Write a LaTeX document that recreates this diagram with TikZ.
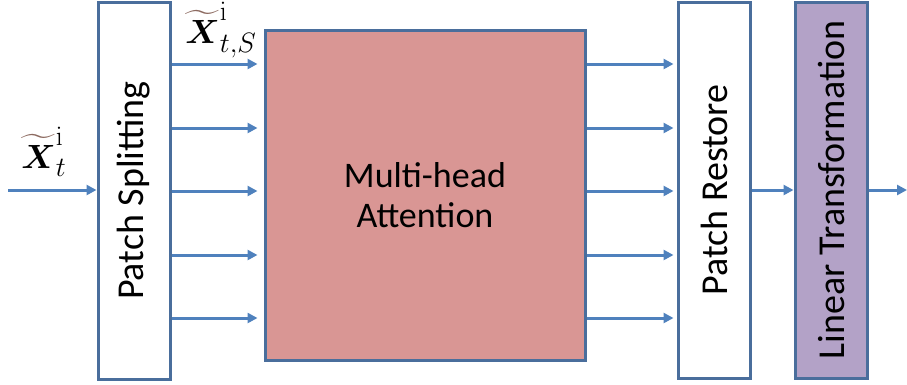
\documentclass[tikz,border=0pt]{standalone}
\usepackage{amsmath,bm,graphicx}
\usepackage[no-math]{fontspec}
\setmainfont{Carlito}
\usetikzlibrary{arrows.meta}
\definecolor{edge}{HTML}{4A6E9C}
\definecolor{flow}{HTML}{4F81BD}
\definecolor{attn}{HTML}{D99694}
\definecolor{lin}{HTML}{B3A2C7}
\definecolor{tildec}{HTML}{8C6A60}
\tikzset{
  blk/.style={draw=edge, line width=3pt, minimum width=72pt, inner sep=0pt},
  vlabel/.style={rotate=90, font=\fontsize{38}{42}\selectfont},
  flowarrow/.style={draw=flow, line width=3pt, -{Triangle[length=10pt,width=10pt]}},
  mathlabel/.style={font=\fontsize{24.88}{30}\selectfont, inner sep=0pt},
}
\newcommand{\tX}{\mathord{\textcolor{tildec}{\widetilde{\textcolor{black}{\bm{X}}}}}}
\newcommand{\biglabel}[1]{\scalebox{1.35}{$#1$}}
\begin{document}
\begin{tikzpicture}[x=1pt,y=-1pt]
\useasboundingbox (0,0) rectangle (907,384);
% blocks
\node[blk, fill=white, minimum height=377pt] (split) at (134,190.5) {};
\node[vlabel] at (split.center) {Patch Splitting};
\node[blk, fill=attn, minimum width=320pt, minimum height=330pt] (mha) at (425,195) {};
\node[font=\fontsize{36}{40}\selectfont, align=center] at (425,195) {Multi-head\\Attention};
\node[blk, fill=white, minimum height=376pt] (restore) at (714,190) {};
\node[vlabel] at (restore.center) {Patch Restore};
\node[blk, fill=lin, minimum height=376pt] (lintr) at (831,190) {};
\node[vlabel] at (lintr.center) {Linear Transformation};
% input / output ends
\coordinate (in) at (8,190);
\coordinate (out) at (907,190);
% labels
\node[mathlabel] (xin) at (44,152) {\biglabel{\tX^{\mathrm{i}}_{t}}};
\node[mathlabel] (xs) at (221,30) {\biglabel{\tX^{\mathrm{i}}_{t,S}}};
% arrows
\draw[flowarrow] (in) -- (split.west |- in);
\foreach \yy in {64,128,191,255,318}{
  \draw[flowarrow] (split.east |- 0,\yy) -- ([xshift=-6pt]mha.west |- 0,\yy);
  \draw[flowarrow] (mha.east |- 0,\yy) -- ([xshift=-3pt]restore.west |- 0,\yy);
}
\draw[flowarrow] (restore.east |- 0,190) -- (lintr.west |- 0,190);
\draw[flowarrow] (lintr.east |- 0,190) -- (out);
\end{tikzpicture}
\end{document}
